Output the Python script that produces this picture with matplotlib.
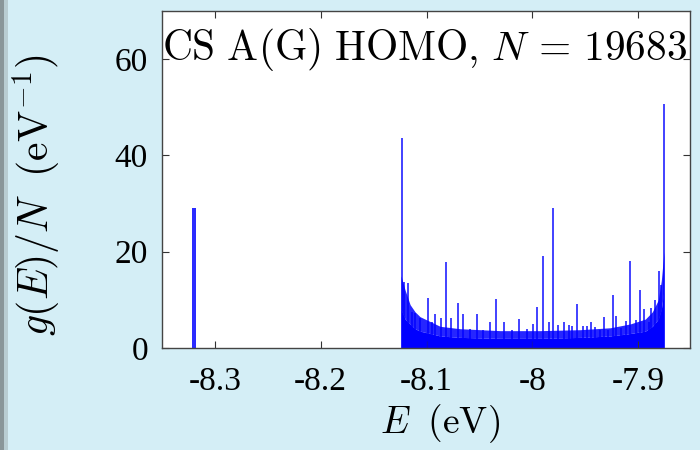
import numpy as np
import matplotlib
matplotlib.use('Agg')
import matplotlib.pyplot as plt

# --- data ---
# isolated peak pair at the bottom of the spectrum
low_e = [-8.3203, -8.3186]
low_g = [29.0, 29.0]

# band: solid floor and hairy top of the dense histogram
band_e = [-8.1241, -8.1202, -8.1155, -8.1108, -8.1061, -8.0966, -8.0871,
          -8.0682, -8.0304, -7.9925, -7.9547, -7.9263, -7.9074, -7.8932,
          -7.8866, -7.8809, -7.8781, -7.8756]
band_lo = [8.0, 6.0, 5.0, 4.0, 3.5, 3.0, 2.5, 2.2, 2.0, 2.0, 2.2, 2.5, 3.0,
           3.5, 4.5, 6.0, 8.0, 12.0]
band_hi = [15.0, 12.0, 9.0, 7.5, 6.5, 5.5, 4.5, 4.0, 3.6, 3.6, 3.8, 4.2, 5.0,
           6.0, 7.5, 10.0, 14.0, 20.0]

# individual spikes inside the band
spike_e = [-8.1234, -8.1212, -8.1177, -8.1139, -8.1108, -8.1061, -8.0988,
           -8.0950, -8.0919, -8.0865, -8.0817, -8.0767, -8.0698, -8.0651,
           -8.0588, -8.0524, -8.0462, -8.0398, -8.0344, -8.0263, -8.0193,
           -8.0124, -8.0051, -7.9989, -7.9956, -7.9903, -7.9847, -7.9805,
           -7.9758, -7.9705, -7.9658, -7.9625, -7.9578, -7.9525, -7.9483,
           -7.9446, -7.9405, -7.9358, -7.9326, -7.9289, -7.9241, -7.9209,
           -7.9159, -7.9115, -7.9074, -7.9020, -7.8979, -7.8941, -7.8901,
           -7.8875, -7.8837, -7.8806, -7.8783, -7.8759]
spike_g = [43.7, 13.8, 13.6, 7.5, 7.2, 6.2, 10.3,
           5.5, 7.0, 6.3, 17.9, 6.3, 9.4, 7.0,
           3.9, 7.0, 3.8, 5.4, 10.1, 5.4, 3.8,
           6.0, 4.0, 4.9, 8.5, 19.2, 5.5, 29.0,
           4.7, 5.4, 4.7, 4.5, 9.2, 4.5, 4.5,
           5.4, 4.4, 3.8, 6.5, 3.8, 11.1, 6.7,
           4.1, 5.6, 18.1, 5.9, 12.1, 8.0, 5.4,
           8.4, 9.9, 16.0, 13.0, 50.7]

xticks = [-8.3, -8.2, -8.1, -8.0, -7.9]
xticklabels = ['-8.3', '-8.2', '-8.1', '-8', '-7.9']
yticks = [0, 20, 40, 60]

plt.rcParams['font.family'] = ['Liberation Serif', 'DejaVu Serif']
plt.rcParams['mathtext.fontset'] = 'cm'
plt.rcParams['axes.unicode_minus'] = False

bg = '#d4eef6'
blue = '#0000ff'

fig = plt.figure(figsize=(7, 4.5), dpi=100, facecolor=bg)
# grey strip on the left edge of the screenshot
fig.patches.append(plt.Rectangle((0, 0), 0.006, 1, transform=fig.transFigure,
                                 facecolor='#8a9699', edgecolor='none'))
fig.patches.append(plt.Rectangle((0.006, 0), 0.006, 1, transform=fig.transFigure,
                                 facecolor='#b9cdd2', edgecolor='none'))

ax = fig.add_axes([0.2314, 0.2267, 0.7543, 0.7489])
ax.set_facecolor('white')

ax.fill_between(band_e, 0, band_lo, color=blue, lw=0)
ax.fill_between(band_e, band_lo, band_hi, color=blue, alpha=0.85, lw=0)
ax.vlines(spike_e, 0, spike_g, color=blue, lw=1.3, alpha=0.8)
ax.vlines(low_e, 0, low_g, color=blue, lw=1.4, alpha=0.85)

ax.set_xlim(-8.35, -7.851)
ax.set_ylim(0, 70)
ax.set_xticks(xticks)
ax.set_xticklabels(xticklabels)
ax.set_yticks(yticks)
ax.tick_params(direction='in', length=5, width=0.8, top=True, right=True,
               colors='#333333', labelcolor='black', labelsize=24)
ax.tick_params(axis='x', pad=13)
ax.tick_params(axis='y', pad=10)
for s in ax.spines.values():
    s.set_color('#444444')
    s.set_linewidth(1.0)

ax.set_xlabel(r'$E\ \;\mathrm{(eV)}$', fontsize=27)
ax.xaxis.set_label_coords(0.527, -0.16)
ax.set_ylabel(r'$g(E)/N\ \;\mathrm{(eV^{-1})}$', fontsize=30)
ax.yaxis.set_label_coords(-0.19, 0.454)

ax.text(0.0, 0.855, r'$\mathrm{CS\ A(G)\ HOMO{,}}\ N\,=\,19683$',
        transform=ax.transAxes, ha='left', va='baseline', fontsize=29.8,
        clip_on=True)

fig.savefig('out.png', dpi=100, facecolor=bg)
